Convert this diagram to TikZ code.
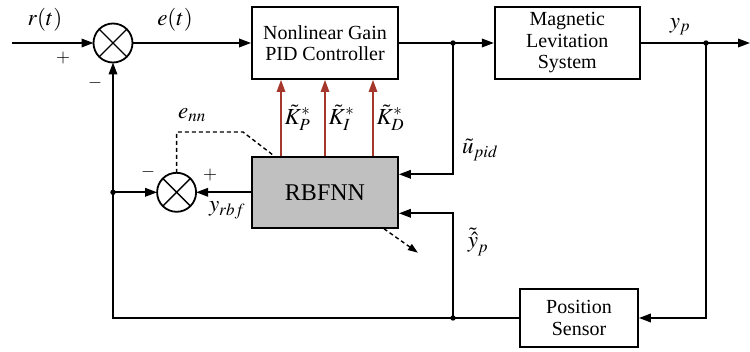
\documentclass[tikz,border=0pt]{standalone}
\usepackage{mathptmx}
\usepackage{fontspec}
\setmainfont{Liberation Serif}
\usetikzlibrary{arrows.meta, positioning, calc}
\definecolor{gainred}{RGB}{165,55,45}
\definecolor{nngray}{RGB}{192,192,192}

\begin{document}
\begin{tikzpicture}[x=1pt, y=1pt, line width=1.8pt,
		>={Triangle[length=12pt,width=8.5pt]},
		blk/.style={draw, fill=white, align=center, inner sep=1pt,
		            minimum width=146pt, minimum height=72pt,
		            font=\fontsize{20}{21.5}\selectfont},
		sum/.style={draw, circle, minimum size=39pt, inner sep=0pt, outer sep=0pt},
		lbl/.style={font=\fontsize{23}{25}\selectfont, inner sep=0pt},
		sgn/.style={font=\fontsize{18}{20}\selectfont, inner sep=0pt}]
		\useasboundingbox (0,0) rectangle (750,351);
		% blocks
		\node[blk] (pid) at (325,308) {Nonlinear Gain\\PID Controller};
		\node[blk, right=95pt of pid, minimum width=145pt] (mag) {Magnetic\\Levitation\\System};
		\node[blk, below=76pt of pid, fill=nngray, minimum height=71pt,
		      font=\fontsize{24}{26}\selectfont] (rbf) {RBFNN};
		\node[blk, minimum width=118pt, minimum height=58pt] (sen) at (579,33) {Position\\Sensor};
		\node[sum] (s1) at (113,308) {};
		\node[sum, left=55pt of rbf] (s2) {};
		\foreach \s in {s1,s2}
		  \draw[line width=1.4pt] (\s.north east) -- (\s.south west)
		                          (\s.north west) -- (\s.south east);
		% branch points
		\coordinate (in) at (12,308);
		\coordinate (out) at (750,308);
		\coordinate (d1) at (453,308);
		\coordinate (d2) at (706,308);
		\coordinate (d3) at (d1 |- sen);
		\coordinate (d4) at (s1 |- s2);
		\coordinate (fb) at (s1 |- sen);
		% main loop
		\draw[->] (in) -- (s1);
		\draw[->] (s1) -- (pid);
		\draw[->] (pid) -- (mag);
		\draw[->] (mag) -- (out);
		\draw[->] (d2) |- (sen);
		\draw[->] (sen) -- (fb) -- (s1);
		% network inputs and output
		\draw[->] (d1) |- ($(rbf.east)+(0,18)$);
		\draw[->] (d3) |- ($(rbf.east)+(0,-21)$);
		\draw[->] (d4) -- (s2);
		\draw[->] (rbf) -- (s2);
		\foreach \d in {d1,d2,d3,d4}
		  \fill (\d) circle (2.7pt);
		% tuned gains
		\foreach \dx/\k in {-44/P, 0/I, 48/D}
		  \draw[->, gainred, line width=1.3pt] ($(rbf.north)+(\dx,0)$) -- ($(pid.south)+(\dx,0)$)
		    node[lbl, midway, right=3pt, text=black] {$\tilde{K}^*_{\k}$};
		% training error
		\draw[line width=1.4pt, dash pattern=on 4pt off 3pt] (s2.north) |- (243,219)
		  -- ($(rbf.north west)+(23,0)$);
		\draw[->, line width=1.4pt, dash pattern=on 4pt off 3pt,
		      >={Triangle[length=10pt,width=7pt]}] ($(rbf.south east)+(-15,0)$) -- ++(34,-24);
		% labels
		\node[lbl] (lr) at (45,331) {$r(t)$};
		\node[lbl] (le) at (175,331) {$e(t)$};
		\node[lbl] (ly) at (680,324) {$y_{p}$};
		\node[lbl] (lenn) at (192,236) {$e_{nn}$};
		\node[lbl] (lyr) at (227,141) {$y_{rbf}$};
		\node[lbl] (lu) at (480,201) {$\tilde{u}_{pid}$};
		\node[lbl] (lyh) at (478,109) {$\tilde{\hat{y}}_{p}$};
		\node[sgn] (p1) at (63,293) {$+$};
		\node[sgn] (m1) at (95,268) {$-$};
		\node[sgn] (m2) at (148,179) {$-$};
		\node[sgn] (p2) at (210,176) {$+$};
	\end{tikzpicture}
\end{document}
